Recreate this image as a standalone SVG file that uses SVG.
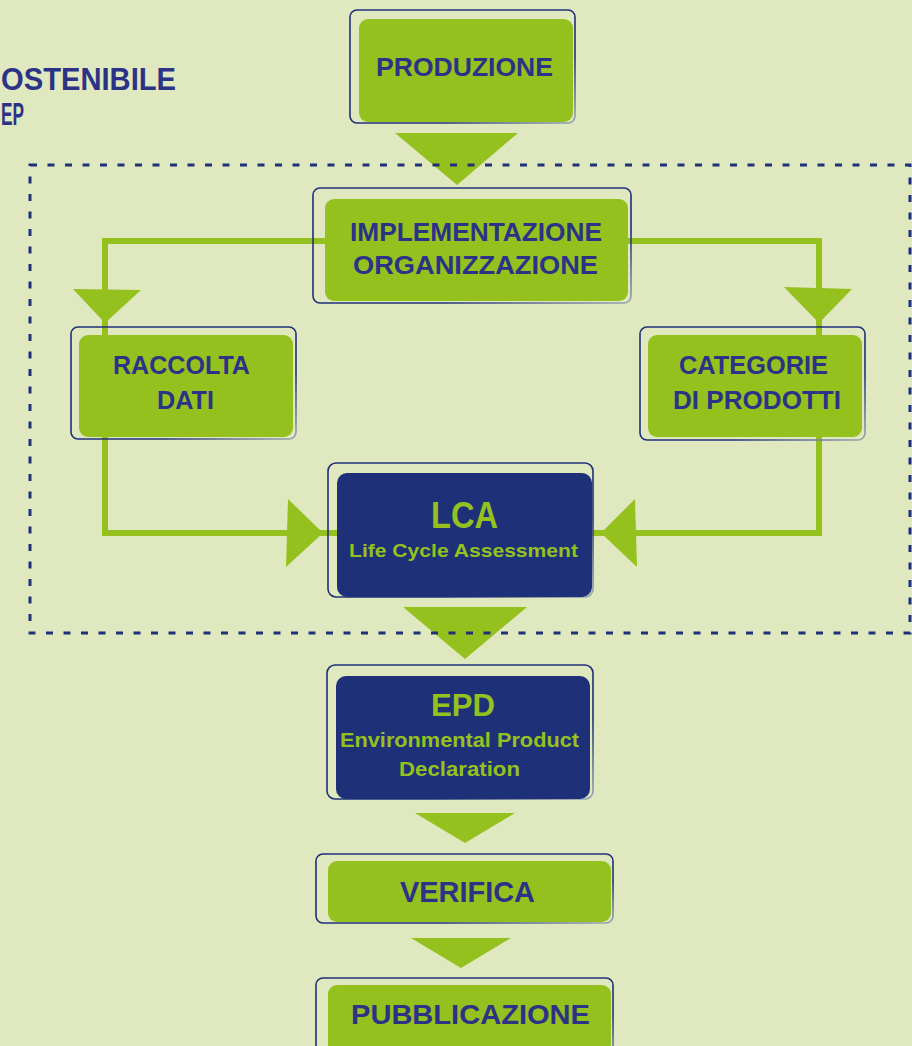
<svg xmlns="http://www.w3.org/2000/svg" width="912" height="1046" viewBox="0 0 912 1046">
<defs>
<linearGradient id="og" x1="0" y1="0" x2="1" y2="1">
<stop offset="0" stop-color="#1f3078"/>
<stop offset="0.7" stop-color="#1f3078"/>
<stop offset="1" stop-color="#9aa6b0"/>
</linearGradient>
<style>
.outline{fill:none;stroke:url(#og);stroke-width:1.6}
.g{fill:#95c11f}
.n{fill:#1e3078}
.conn{fill:none;stroke:#95c11f;stroke-width:6}
.arr{fill:#95c11f}
.t{font-family:"Liberation Sans",Arial,sans-serif;font-weight:bold;fill:#2c3286;text-anchor:middle}
.tg{font-family:"Liberation Sans",Arial,sans-serif;font-weight:bold;fill:#95c11f;text-anchor:middle}
.dash{fill:none;stroke:#1f3078;stroke-width:3;stroke-dasharray:7 10.5}
</style>
</defs>
<rect x="0" y="0" width="912" height="1046" fill="#dfe8bf"/>

<g id="title">
<text class="t" style="text-anchor:start" x="1" y="90" font-size="31" textLength="175" lengthAdjust="spacingAndGlyphs">OSTENIBILE</text>
<text class="t" style="text-anchor:start" x="1" y="125" font-size="31" textLength="23" lengthAdjust="spacingAndGlyphs">EP</text>
</g>

<g id="connectors">
<polyline class="conn" points="333,241 105,241 105,533 337,533"/>
<polyline class="conn" points="600,241 819,241 819,533 591,533"/>
<polygon class="arr" points="395,133 518,133 457,185"/>
<polygon class="arr" points="73,289 141,290 105,323"/>
<polygon class="arr" points="784,287 852,289 819,323"/>
<polygon class="arr" points="288,499 286,567 323,533"/>
<polygon class="arr" points="635,499 637,567 601,533"/>
<polygon class="arr" points="403,607 527,607 465,659"/>
<polygon class="arr" points="415,813 515,813 465,843"/>
<polygon class="arr" points="411,938 511,938 461,968"/>
</g>

<g id="produzione">
<rect class="outline" x="350" y="10" width="225" height="113" rx="7"/>
<rect class="g" x="359" y="19" width="214" height="103" rx="9"/>
<text class="t" x="464.5" y="76" font-size="26" textLength="177" lengthAdjust="spacingAndGlyphs">PRODUZIONE</text>
</g>

<g id="implementazione">
<rect class="outline" x="313" y="188" width="318" height="115" rx="7"/>
<rect class="g" x="325" y="199" width="303" height="102" rx="9"/>
<text class="t" x="476" y="241" font-size="26" textLength="252" lengthAdjust="spacingAndGlyphs">IMPLEMENTAZIONE</text>
<text class="t" x="475.5" y="274" font-size="26" textLength="245" lengthAdjust="spacingAndGlyphs">ORGANIZZAZIONE</text>
</g>

<g id="raccolta">
<rect class="outline" x="71" y="327" width="225" height="112" rx="7"/>
<rect class="g" x="79" y="335" width="214" height="102" rx="9"/>
<text class="t" x="181.5" y="374" font-size="25" textLength="137" lengthAdjust="spacingAndGlyphs">RACCOLTA</text>
<text class="t" x="185.5" y="409" font-size="25" textLength="57" lengthAdjust="spacingAndGlyphs">DATI</text>
</g>

<g id="categorie">
<rect class="outline" x="640" y="327" width="225" height="113" rx="7"/>
<rect class="g" x="648" y="335" width="214" height="102" rx="9"/>
<text class="t" x="753.5" y="374" font-size="25" textLength="149" lengthAdjust="spacingAndGlyphs">CATEGORIE</text>
<text class="t" x="757" y="409" font-size="25" textLength="168" lengthAdjust="spacingAndGlyphs">DI PRODOTTI</text>
</g>

<g id="lca">
<rect class="outline" x="328" y="463" width="265" height="134" rx="8"/>
<rect class="n" x="337" y="473" width="255" height="124" rx="10"/>
<text class="tg" x="464.5" y="528" font-size="37" textLength="67" lengthAdjust="spacingAndGlyphs">LCA</text>
<text class="tg" x="463.5" y="557" font-size="19" textLength="229" lengthAdjust="spacingAndGlyphs">Life Cycle Assessment</text>
</g>

<g id="epd">
<rect class="outline" x="327" y="665" width="266" height="134" rx="8"/>
<rect class="n" x="336" y="676" width="254" height="123" rx="10"/>
<text class="tg" x="463" y="716" font-size="32" textLength="64" lengthAdjust="spacingAndGlyphs">EPD</text>
<text class="tg" x="459.5" y="747" font-size="20" textLength="239" lengthAdjust="spacingAndGlyphs">Environmental Product</text>
<text class="tg" x="459.5" y="776" font-size="20" textLength="121" lengthAdjust="spacingAndGlyphs">Declaration</text>
</g>

<g id="verifica">
<rect class="outline" x="316" y="854" width="297" height="69" rx="7"/>
<rect class="g" x="328" y="861" width="283" height="61" rx="9"/>
<text class="t" x="467.5" y="902" font-size="30" textLength="135" lengthAdjust="spacingAndGlyphs">VERIFICA</text>
</g>

<g id="pubblicazione">
<rect class="outline" x="316" y="978" width="297" height="90" rx="7"/>
<rect class="g" x="328" y="985" width="283" height="80" rx="9"/>
<text class="t" x="470.5" y="1024" font-size="28" textLength="239" lengthAdjust="spacingAndGlyphs">PUBBLICAZIONE</text>
</g>

<rect class="dash" x="30" y="165" width="880" height="468"/>
</svg>
